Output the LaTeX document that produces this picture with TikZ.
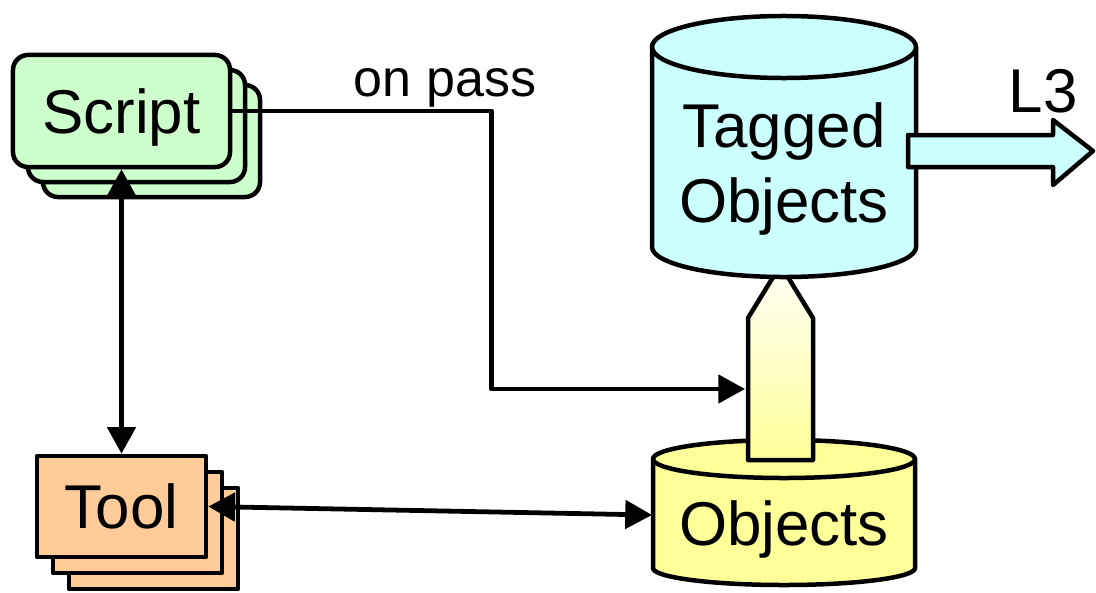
\documentclass[tikz,border=0pt]{standalone}
\usepackage{fontspec}
\setmainfont{Liberation Sans}
\usetikzlibrary{arrows.meta}
\definecolor{scriptgreen}{HTML}{CCFFCC}
\definecolor{toolorange}{HTML}{FFCC99}
\definecolor{taggedcyan}{HTML}{CCFFFF}
\definecolor{objyellow}{HTML}{FFFF99}
\begin{document}
\begin{tikzpicture}[x=0.025cm,y=-0.025cm,line join=round,
  >={Triangle[length=19pt,width=20pt]},
  bigtext/.style={font=\fontsize{44}{54}\selectfont},
  stackbox/.style={draw,line width=3.2pt,text height=31.5pt,text depth=0pt,bigtext},
  scriptbox/.style={stackbox,fill=scriptgreen,rounded corners=0.375cm,minimum width=5.425cm,minimum height=2.8cm},
  toolbox/.style={stackbox,fill=toolorange,minimum width=4.225cm,minimum height=2.525cm},
  cyl/.style={line width=3.2pt},
  link/.style={line width=3.4pt}]
\useasboundingbox (0,0) rectangle (1096,592);

% stacked boxes
\foreach \d in {30,15}
  \node[scriptbox] (script\d) at (121.5+\d,111+\d) {};
\node[scriptbox] (script) at (121.5,111) {Script};
\foreach \d in {32,16}
  \node[toolbox] (tool\d) at (121.5+\d,506.5+\d) {};
\node[toolbox] (tool) at (121.5,506.5) {Tool};

% objects cylinder
\filldraw[cyl,fill=objyellow](653,459)--(653,568)
  arc[start angle=180,end angle=360,x radius=3.275cm,y radius=0.425cm]--(915,459)
  arc[start angle=0,end angle=180,x radius=3.275cm,y radius=0.475cm]--cycle;
\draw[cyl](653,459) arc[start angle=180,end angle=360,x radius=3.275cm,y radius=0.475cm];
\node[bigtext] (objects) at (784,529) {Objects};
\coordinate (objects in) at (652,515);

% tagging arrow
\path[draw,cyl,top color=yellow!3,bottom color=objyellow]
  (748,460)--(748,318)--(780.5,265)--(813,318)--(813,460)--cycle;

% tagged objects cylinder
\filldraw[cyl,fill=taggedcyan](652,47)--(652,247)
  arc[start angle=180,end angle=360,x radius=3.3cm,y radius=0.75cm]--(916,47)
  arc[start angle=0,end angle=180,x radius=3.3cm,y radius=0.775cm]--cycle;
\draw[cyl](652,47) arc[start angle=180,end angle=360,x radius=3.3cm,y radius=0.775cm];
\node[bigtext,align=center] (tagged) at (784,169) {Tagged\\Objects};

% output arrow
\filldraw[cyl,fill=taggedcyan](908,135)--(1053,135)--(1053,120)--(1093,151)
  --(1053,185)--(1053,167)--(908,167)--cycle;
\node[bigtext,anchor=base] (l3) at (1043,112) {L3};

% connectors
\coordinate (pass in) at (745,389);
\draw[link,->] (script.east)--++(259,0) |- (pass in);
\node[font=\fontsize{37}{40}\selectfont,anchor=base] (onpass) at (445,96) {on pass};
\draw[link,<->] (script.south)--(tool.north);
\draw[link,<->] (tool.east)--(objects in);
\end{tikzpicture}
\end{document}
